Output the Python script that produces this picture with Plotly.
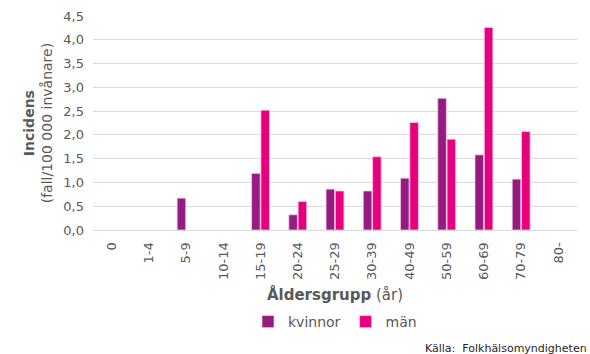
import plotly.graph_objects as go

categories = ["0", "1-4", "5-9", "10-14", "15-19", "20-24", "25-29", "30-39",
              "40-49", "50-59", "60-69", "70-79", "80-"]
kvinnor = [None, None, 0.67, None, 1.19, 0.32, 0.86, 0.82, 1.09, 2.77, 1.58, 1.07, None]
man = [None, None, None, None, 2.52, 0.60, 0.82, 1.54, 2.26, 1.91, 4.26, 2.07, None]
y_ticks = [0, 0.5, 1.0, 1.5, 2.0, 2.5, 3.0, 3.5, 4.0, 4.5]

FONT = "DejaVu Sans"
GREY = "#595959"

fig = go.Figure()
fig.add_trace(go.Bar(x=categories, y=kvinnor, name="kvinnor",
                     marker=dict(color="#951B81", line=dict(color="#E9C6E2", width=0.8))))
fig.add_trace(go.Bar(x=categories, y=man, name="män",
                     marker=dict(color="#E6007E", line=dict(color="#F9C3E0", width=0.8))))

fig.update_layout(
    width=590, height=354,
    margin=dict(l=93, r=13, t=16, b=124, autoexpand=False),
    plot_bgcolor="white", paper_bgcolor="white",
    separators=", ",
    barmode="group", bargap=0.5, bargroupgap=0.08,
    font=dict(family=FONT, color=GREY, size=13),
    showlegend=True,
    legend=dict(orientation="h", x=0.5, xanchor="center", y=-0.43, yanchor="middle",
                font=dict(size=14, color=GREY), itemwidth=30, traceorder="normal",
                tracegroupgap=0),
    xaxis=dict(type="category", tickangle=-90, tickfont=dict(size=13, color=GREY),
               showline=True, linecolor="#D9D9D9", linewidth=1, ticks="", automargin=False,
               ticklabelstandoff=6,
               title=dict(text="<b>Åldersgrupp</b> (år)", font=dict(size=15, color=GREY), standoff=10)),
    yaxis=dict(range=[0, 4.5], tickvals=y_ticks, tickformat=".1f", automargin=False,
               showgrid=True, gridcolor="#D9D9D9", gridwidth=1, zeroline=False,
               ticklabelstandoff=8,
               tickfont=dict(size=13, color=GREY), ticks="", ticklen=0),
)

fig.add_annotation(text="<b>Incidens</b><br>(fall/100 000 invånare)", textangle=-90,
                   xref="paper", yref="paper", x=-0.113, y=0.5, xanchor="center", yanchor="middle",
                   showarrow=False, font=dict(size=14, color=GREY), align="center")
fig.add_annotation(text="Källa:  Folkhälsomyndigheten", xref="paper", yref="paper",
                   x=1.025, y=-0.555, xanchor="right", yanchor="middle",
                   showarrow=False, font=dict(size=11, color="#262626"))

fig.write_html("out.html")
